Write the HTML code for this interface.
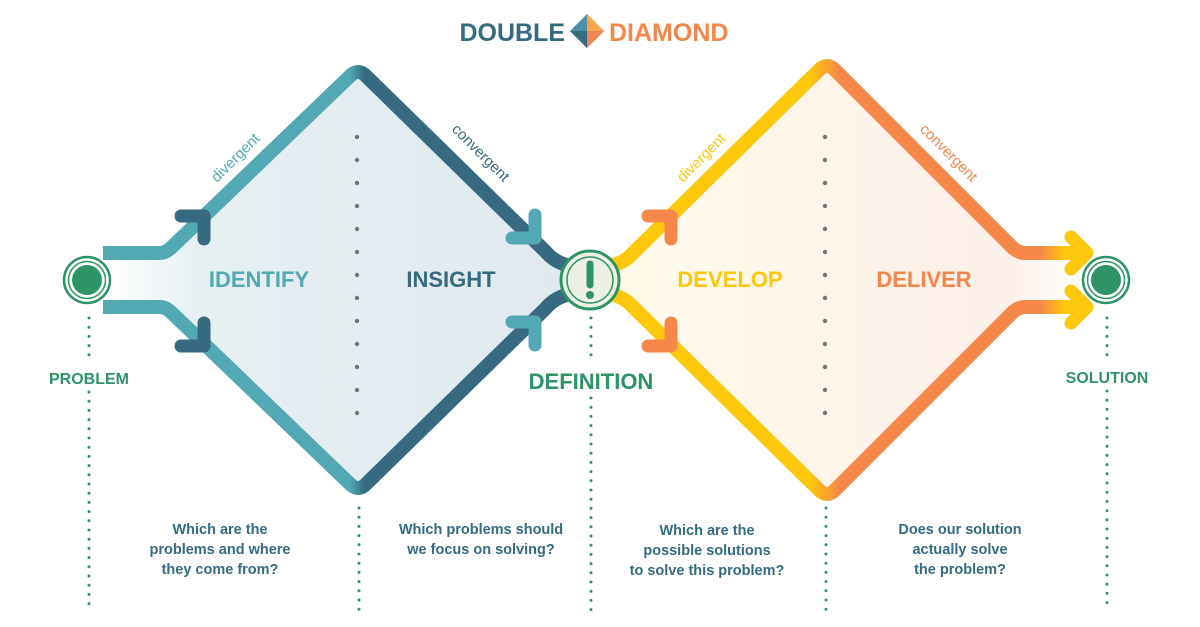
<!DOCTYPE html>
<html><head><meta charset="utf-8"><style>
html,body{margin:0;padding:0;background:#fff;}
svg{display:block;}
text{font-family:"Liberation Sans",sans-serif;}
</style></head><body>
<svg width="1200" height="627" viewBox="0 0 1200 627" xmlns="http://www.w3.org/2000/svg">
<defs>
<linearGradient id="fillL" x1="0" y1="0" x2="1" y2="0">
<stop offset="0" stop-color="#fff"/><stop offset="0.2" stop-color="#e6f0f3"/><stop offset="1" stop-color="#e0e9ee"/></linearGradient>
<linearGradient id="fillR" x1="0" y1="0" x2="1" y2="0">
<stop offset="0" stop-color="#fffbea"/><stop offset="0.5" stop-color="#fdf4ea"/><stop offset="0.85" stop-color="#fceee8"/><stop offset="1" stop-color="#fff"/></linearGradient>
<linearGradient id="strL" gradientUnits="userSpaceOnUse" x1="100" y1="0" x2="600" y2="0">
<stop offset="0" stop-color="#52a8b3"/><stop offset="0.5" stop-color="#52a8b3"/><stop offset="0.53" stop-color="#356a80"/><stop offset="1" stop-color="#356a80"/></linearGradient>
<linearGradient id="strR" gradientUnits="userSpaceOnUse" x1="600" y1="0" x2="1100" y2="0">
<stop offset="0" stop-color="#fdc80c"/><stop offset="0.42" stop-color="#fdc80c"/><stop offset="0.48" stop-color="#f5874a"/><stop offset="0.88" stop-color="#f5874a"/><stop offset="0.93" stop-color="#fdc80c"/><stop offset="1" stop-color="#fdc80c"/></linearGradient>
</defs>

<path d="M103,258 H172 L360,70 L548,258 L580,275 L580,285 L548,302 L360,490 L172,302 H103 Z" fill="url(#fillL)"/>
<path d="M600,275 L624,265 L827,62 L1018,253 H1080 V307 H1018 L827,498 L624,295 L600,285 Z" fill="url(#fillR)"/>

<g fill="none" stroke-width="14" stroke-linejoin="round" stroke-linecap="butt">
<path d="M103,253 H160 Q166,253 172,247 L350,76 Q358,68 366,76 L545,251 Q556,264 572,266" stroke="url(#strL)"/>
<path d="M103,307 H160 Q166,307 172,313 L350,484 Q358,492 366,484 L545,309 Q556,296 572,294" stroke="url(#strL)"/>
<path d="M608,266 Q622,264 630,256 L819,70 Q827,62 835,70 L1012,247 Q1018,253 1026,253 H1082" stroke="url(#strR)"/>
<path d="M608,294 Q622,296 630,304 L819,490 Q827,498 835,490 L1012,313 Q1018,307 1026,307 H1082" stroke="url(#strR)"/>
</g>

<g fill="none" stroke-width="13" stroke-linecap="round" stroke-linejoin="round">
<path d="M181,216 H204 V239" stroke="#356a80"/>
<path d="M181,346 H204 V323" stroke="#356a80"/>
<path d="M535,215 V238 H512" stroke="#52a8b3"/>
<path d="M535,345 V322 H512" stroke="#52a8b3"/>
<path d="M648,216 H671 V239" stroke="#f5874a"/>
<path d="M648,346 H671 V323" stroke="#f5874a"/>
<path d="M1071,237 L1087,253 L1071,269" stroke="#fdc80c"/>
<path d="M1071,291 L1087,307 L1071,323" stroke="#fdc80c"/>
</g>

<g fill="#757575">
<circle cx="357" cy="137" r="2.2"/><circle cx="357" cy="160" r="2.2"/><circle cx="357" cy="183" r="2.2"/><circle cx="357" cy="206" r="2.2"/><circle cx="357" cy="229" r="2.2"/><circle cx="357" cy="252" r="2.2"/><circle cx="357" cy="275" r="2.2"/><circle cx="357" cy="298" r="2.2"/><circle cx="357" cy="321" r="2.2"/><circle cx="357" cy="344" r="2.2"/><circle cx="357" cy="367" r="2.2"/><circle cx="357" cy="390" r="2.2"/><circle cx="357" cy="413" r="2.2"/>
<circle cx="825" cy="137" r="2.2"/><circle cx="825" cy="160" r="2.2"/><circle cx="825" cy="183" r="2.2"/><circle cx="825" cy="206" r="2.2"/><circle cx="825" cy="229" r="2.2"/><circle cx="825" cy="252" r="2.2"/><circle cx="825" cy="275" r="2.2"/><circle cx="825" cy="298" r="2.2"/><circle cx="825" cy="321" r="2.2"/><circle cx="825" cy="344" r="2.2"/><circle cx="825" cy="367" r="2.2"/><circle cx="825" cy="390" r="2.2"/><circle cx="825" cy="413" r="2.2"/>
</g>

<g stroke="#2e9466" stroke-width="3" stroke-linecap="round" stroke-dasharray="0 9.2" fill="none">
<path d="M89,318 V362"/><path d="M89,392 V610"/>
<path d="M359,508 V610"/>
<path d="M591,318 V360"/><path d="M591,398 V610"/>
<path d="M826,508 V610"/>
<path d="M1107,318 V362"/><path d="M1107,391 V610"/>
</g>

<g>
<circle cx="87" cy="280" r="23" fill="#fff" stroke="#2e9466" stroke-width="2.5"/>
<circle cx="87" cy="280" r="18.5" fill="none" stroke="#2e9466" stroke-width="1.5"/>
<circle cx="87" cy="280" r="15" fill="#2e9466"/>
<circle cx="1106" cy="280" r="23" fill="#fff" stroke="#2e9466" stroke-width="2.5"/>
<circle cx="1106" cy="280" r="18.5" fill="none" stroke="#2e9466" stroke-width="1.5"/>
<circle cx="1106" cy="280" r="15" fill="#2e9466"/>
<circle cx="590" cy="280" r="29" fill="#eef0e4" stroke="#2e9466" stroke-width="3"/>
<circle cx="590" cy="280" r="23" fill="none" stroke="#2e9466" stroke-width="1.5"/>
<path d="M590,264 V285" stroke="#2e9466" stroke-width="7" stroke-linecap="round"/>
<circle cx="590" cy="295" r="4" fill="#2e9466"/>
</g>

<text x="565" y="41" text-anchor="end" font-size="25" font-weight="bold" fill="#356a80">DOUBLE</text>
<polygon points="587,14 604,31 587,48 570,31" fill="#4e8fa8"/>
<polygon points="587,14 604,31 587,31" fill="#f8a64a"/>
<polygon points="587,31 604,31 587,48" fill="#f08650"/>
<polygon points="570,31 587,31 587,48" fill="#356a80"/>
<text x="609" y="41" font-size="25" font-weight="bold" fill="#f5874a">DIAMOND</text>

<text x="259" y="287" text-anchor="middle" font-size="22" font-weight="bold" fill="#52a8b3">IDENTIFY</text>
<text x="451" y="287" text-anchor="middle" font-size="22" font-weight="bold" fill="#356a80">INSIGHT</text>
<text x="730" y="287" text-anchor="middle" font-size="22" font-weight="bold" fill="#fdc80c">DEVELOP</text>
<text x="924" y="287" text-anchor="middle" font-size="22" font-weight="bold" fill="#f5874a">DELIVER</text>

<text transform="translate(217,183) rotate(-45)" font-size="15" fill="#52a8b3">divergent</text>
<text transform="translate(451,130) rotate(45)" font-size="15" fill="#356a80">convergent</text>
<text transform="translate(683,183) rotate(-45)" font-size="15" fill="#fdc80c">divergent</text>
<text transform="translate(919,130) rotate(45)" font-size="15" fill="#f5874a">convergent</text>

<text x="89" y="384" text-anchor="middle" font-size="16" font-weight="bold" fill="#2e9466">PROBLEM</text>
<text x="591" y="389" text-anchor="middle" font-size="22" font-weight="bold" fill="#2e9466">DEFINITION</text>
<text x="1107" y="383" text-anchor="middle" font-size="16" font-weight="bold" fill="#2e9466">SOLUTION</text>

<g font-size="14.5" font-weight="bold" fill="#356a80" text-anchor="middle">
<text x="220" y="534">Which are the</text>
<text x="220" y="554">problems and where</text>
<text x="220" y="574">they come from?</text>
<text x="481" y="534">Which problems should</text>
<text x="481" y="554">we focus on solving?</text>
<text x="707" y="535">Which are the</text>
<text x="707" y="555">possible solutions</text>
<text x="707" y="575">to solve this problem?</text>
<text x="960" y="534">Does our solution</text>
<text x="960" y="554">actually solve</text>
<text x="960" y="574">the problem?</text>
</g>
</svg>
</body></html>
